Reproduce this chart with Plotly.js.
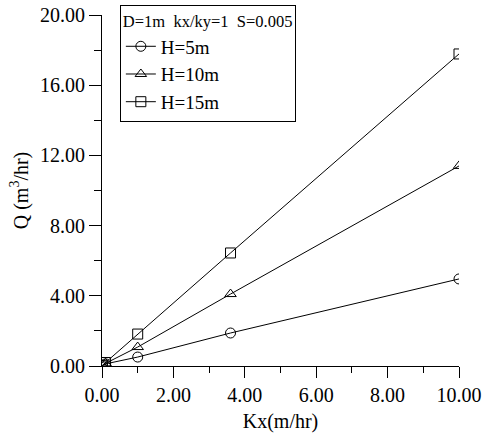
<!DOCTYPE html>
<html><head><meta charset="utf-8">
<script src="https://cdn.plot.ly/plotly-3.0.1.min.js"></script>
<style>body{margin:0;background:#fff}#c{width:486px;height:437px}</style>
</head><body><div id="c"></div>
<script>
const kx = [0.01, 0.1, 1.0, 3.6, 10.0];
const q5 = [0.02, 0.12, 0.51, 1.88, 4.96];
const q10 = [0.03, 0.15, 1.08, 4.10, 11.40];
const q15 = [0.04, 0.20, 1.82, 6.44, 17.78];
const names = ['H=5m', 'H=10m', 'H=15m'];
const symbols = ['circle-open', 'triangle-up-open', 'square-open'];
const series = [q5, q10, q15];
const font = 'Liberation Serif, Times New Roman, serif';
const traces = series.map((q, i) => ({
  x: kx, y: q, name: names[i], type: 'scatter', mode: 'lines+markers',
  line: {color: '#000', width: 1},
  marker: {symbol: symbols[i], size: 10, color: '#000', line: {width: 1, color: '#000'}}
}));
Plotly.newPlot('c', traces, {
  width: 486, height: 437,
  margin: {l: 102, r: 27, t: 15, b: 71, autoexpand: false},
  paper_bgcolor: '#fff', plot_bgcolor: '#fff',
  font: {family: font, color: '#000', size: 20},
  showlegend: true,
  legend: {
    x: 0.05, y: 1.0285, xanchor: 'left', yanchor: 'top',
    bordercolor: '#000', borderwidth: 1, bgcolor: '#fff',
    font: {family: font, size: 19},
    title: {text: 'D=1m\u00a0\u00a0kx/ky=1\u00a0\u00a0S=0.005', font: {family: font, size: 16.5}},
    tracegroupgap: 0, itemwidth: 30
  },
  xaxis: {
    range: [0, 10], tickvals: [0, 2, 4, 6, 8, 10], tickformat: '.2f',
    showline: true, linecolor: '#000', linewidth: 1, showgrid: false, zeroline: false,
    ticks: 'outside', ticklen: 11, tickcolor: '#000',
    minor: {dtick: 1, ticks: 'outside', ticklen: 6, tickcolor: '#000', showgrid: false},
    tickfont: {family: font, size: 20},
    title: {text: 'Kx(m/hr)', font: {family: font, size: 20}, standoff: 8}
  },
  yaxis: {
    range: [0, 20], tickvals: [0, 4, 8, 12, 16, 20], tickformat: '.2f',
    showline: true, linecolor: '#000', linewidth: 1, showgrid: false, zeroline: false,
    ticks: 'outside', ticklen: 12, tickcolor: '#000',
    minor: {dtick: 2, ticks: 'outside', ticklen: 7, tickcolor: '#000', showgrid: false},
    tickfont: {family: font, size: 20},
    title: {text: 'Q (m<sup>3</sup>/hr)', font: {family: font, size: 20}, standoff: 6}
  }
}, {displayModeBar: false, staticPlot: true});
</script></body></html>
